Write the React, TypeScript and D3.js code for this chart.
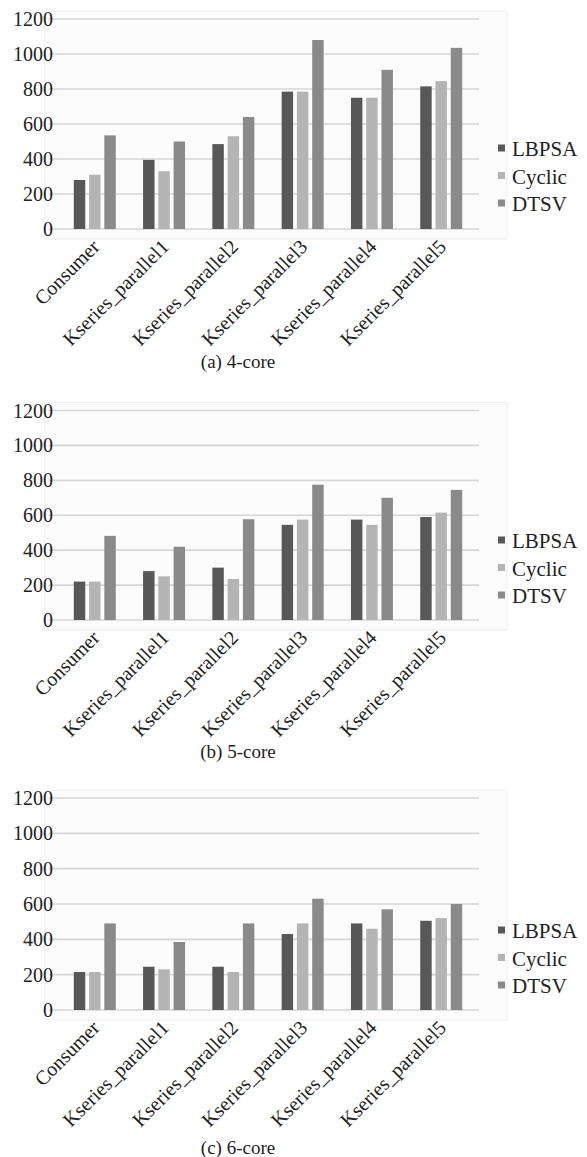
import React from "react";
import { scaleLinear, scaleBand } from "d3";

const categories = ["Consumer", "Kseries_parallel1", "Kseries_parallel2", "Kseries_parallel3", "Kseries_parallel4", "Kseries_parallel5"];
const seriesNames = ["LBPSA", "Cyclic", "DTSV"];
const seriesColors = ["#585858", "#b4b4b4", "#8a8a8a"];
const yTicks = [0, 200, 400, 600, 800, 1000, 1200];

// 4-core
const core4LBPSA = [280, 395, 485, 785, 750, 815];
const core4Cyclic = [310, 330, 530, 785, 750, 845];
const core4DTSV = [535, 500, 640, 1080, 910, 1035];
// 5-core
const core5LBPSA = [220, 280, 300, 545, 575, 590];
const core5Cyclic = [220, 250, 235, 575, 545, 615];
const core5DTSV = [482, 420, 577, 775, 700, 745];
// 6-core
const core6LBPSA = [215, 245, 245, 430, 490, 505];
const core6Cyclic = [215, 230, 215, 490, 460, 520];
const core6DTSV = [490, 385, 490, 630, 570, 600];

const captions = ["(a) 4-core", "(b) 5-core", "(c) 6-core"];

const FONT = "Liberation Serif";
const textStyle = (size: number) => ({ fontFamily: FONT, fontSize: `${size}px` });

const panels = [
    { series: [core4LBPSA, core4Cyclic, core4DTSV], top: 19, zero: 229, legendY: 148, captionY: 368 },
    { series: [core5LBPSA, core5Cyclic, core5DTSV], top: 410.5, zero: 620, legendY: 540, captionY: 758 },
    { series: [core6LBPSA, core6Cyclic, core6DTSV], top: 798, zero: 1010, legendY: 930, captionY: 1154 },
];

const x0 = scaleBand<string>().domain(categories).range([53, 483]).paddingInner(0.394).paddingOuter(0.3);
const x1 = scaleBand<string>().domain(seriesNames).range([0, x0.bandwidth()]).paddingInner(0.25);

function Panel({ p, caption }: { p: typeof panels[number]; caption: string }) {
    const y = scaleLinear().domain([0, 1200]).range([p.zero, p.top]);
    return (
        <g>
            {/* plot area */}
            <rect x={45} y={p.top - 8} width={462} height={p.zero - p.top + 18} fill="#fcfcfc" stroke="#efefef" />

            {/* gridlines + y labels */}
            {yTicks.map((t) => (
                <g key={t}>
                    <line x1={49} x2={479} y1={y(t)} y2={y(t)} stroke="#d6d6d6" strokeWidth={1.6} />
                    <text x={53} y={y(t)} dy="0.35em" textAnchor="end" fill="#222" style={textStyle(20)}>
                        {t}
                    </text>
                </g>
            ))}

            {/* bars */}
            {categories.map((c, i) => (
                <g key={c} transform={`translate(${x0(c)},0)`}>
                    {seriesNames.map((s, k) => (
                        <rect
                            key={s}
                            x={x1(s)}
                            width={x1.bandwidth()}
                            y={y(p.series[k][i])}
                            height={p.zero - y(p.series[k][i])}
                            fill={seriesColors[k]}
                        />
                    ))}
                </g>
            ))}

            {/* category labels */}
            {categories.map((c) => (
                <text
                    key={c}
                    transform={`translate(${(x0(c) as number) + x0.bandwidth() / 2 + 6},${p.zero + 19}) rotate(-45)`}
                    textAnchor="end"
                    fill="#222"
                    style={textStyle(20)}
                >
                    {c}
                </text>
            ))}

            {/* legend */}
            {seriesNames.map((s, i) => (
                <g key={s} transform={`translate(498,${p.legendY + i * 27.5})`}>
                    <rect x={0} y={-3.5} width={7} height={7} fill={seriesColors[i]} />
                    <text x={14} y={8} fill="#222" style={textStyle(21)}>
                        {s}
                    </text>
                </g>
            ))}

            {/* caption */}
            <text x={238} y={p.captionY} textAnchor="middle" fill="#222" style={textStyle(19)}>
                {caption}
            </text>
        </g>
    );
}

export default function App() {
    return (
        <svg width={587} height={1157} style={{ position: "absolute", left: 0, top: 0, background: "#fff" }}>
            {panels.map((p, i) => (
                <Panel key={i} p={p} caption={captions[i]} />
            ))}
        </svg>
    );
}
